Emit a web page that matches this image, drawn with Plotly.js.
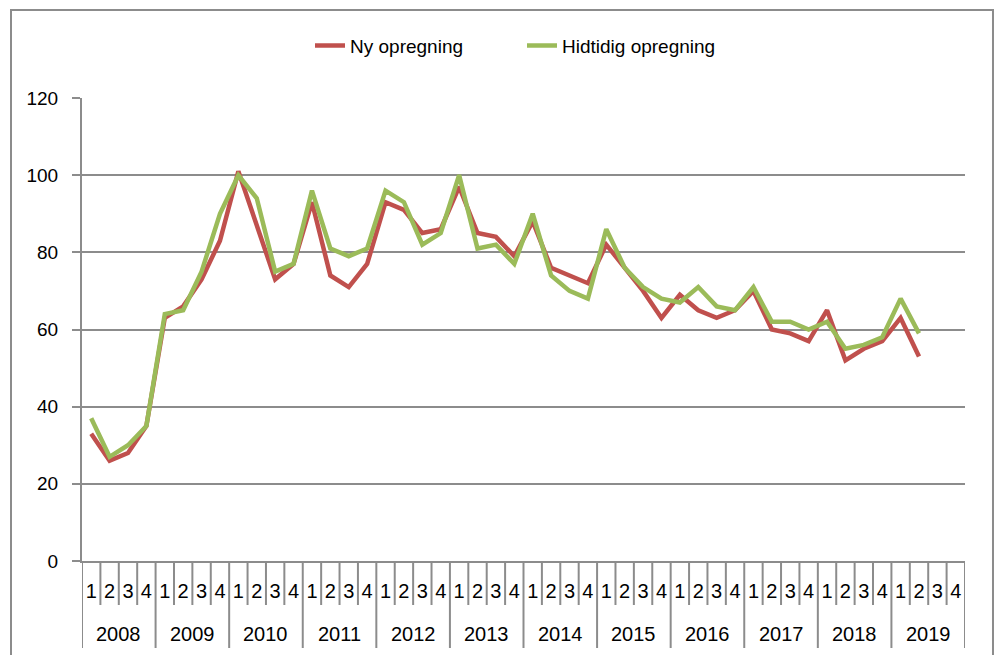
<!DOCTYPE html>
<html>
<head>
<meta charset="utf-8">
<script src="https://cdn.plot.ly/plotly-3.0.1.min.js"></script>
<style>html,body{margin:0;padding:0;background:#fff;}#chart{width:1000px;height:655px;}</style>
</head>
<body>
<div id="chart"></div>
<script>
const years = ['2008','2009','2010','2011','2012','2013','2014','2015','2016','2017','2018','2019'];
const quarters = ['1','2','3','4'];
const nyOpregning = [
  33, 26, 28, 35,
  63, 66, 73, 83,
  101, 87, 73, 77,
  93, 74, 71, 77,
  93, 91, 85, 86,
  97, 85, 84, 79,
  88, 76, 74, 72,
  82, 76, 70, 63,
  69, 65, 63, 65,
  70, 60, 59, 57,
  65, 52, 55, 57,
  63, 53, null, null
];
const hidtidigOpregning = [
  37, 27, 30, 35,
  64, 65, 75, 90,
  100, 94, 75, 77,
  96, 81, 79, 81,
  96, 93, 82, 85,
  100, 81, 82, 77,
  90, 74, 70, 68,
  86, 76, 71, 68,
  67, 71, 66, 65,
  71, 62, 62, 60,
  62, 55, 56, 58,
  68, 59, null, null
];

// category index positions and labels derived from years x quarters
const idx = [], qLabels = [];
years.forEach((y, yi) => quarters.forEach((q, qi) => { idx.push(yi * quarters.length + qi); qLabels.push(q); }));
const nCat = idx.length;

const FONT = '"Liberation Sans", Arial, sans-serif';
const GRAY = '#8c8c8c';
const PLOT_H = 655 - 98 - 94;

const shapes = [];
for (let i = 0; i <= nCat; i++) {
  const isYear = (i % quarters.length === 0) || i === nCat;
  shapes.push({type: 'line', xref: 'x', yref: 'paper', x0: i - 0.5, x1: i - 0.5,
    y0: 0, y1: -(isYear ? 87 : 44) / PLOT_H, line: {color: GRAY, width: 2}});
}
shapes.push({type: 'rect', xref: 'paper', yref: 'paper', x0: -0.0804, x1: 1.0317, y0: -0.22, y1: 1.19,
  line: {color: GRAY, width: 2}, fillcolor: 'rgba(0,0,0,0)', layer: 'below'});

const annotations = years.map((y, yi) => ({
  text: y, xref: 'x', yref: 'paper', x: yi * quarters.length + (quarters.length - 1) / 2,
  y: -(634 - 561) / PLOT_H, xanchor: 'center', yanchor: 'middle', showarrow: false,
  font: {family: FONT, size: 20, color: '#000'}
}));

const traces = [
  {x: idx, y: nyOpregning, type: 'scatter', mode: 'lines', name: 'Ny opregning',
   line: {color: '#C0504D', width: 4.5}, connectgaps: false},
  {x: idx, y: hidtidigOpregning, type: 'scatter', mode: 'lines', name: 'Hidtidig opregning',
   line: {color: '#9BBB59', width: 4.5}, connectgaps: false}
];

const layout = {
  width: 1000, height: 655,
  margin: {l: 82, r: 35, t: 98, b: 94},
  paper_bgcolor: '#fff', plot_bgcolor: '#fff',
  font: {family: FONT, size: 20, color: '#000'},
  showlegend: true,
  legend: {orientation: 'h', x: (310 - 82) / 883, xanchor: 'left', y: 1.154, yanchor: 'top',
           entrywidth: 167, entrywidthmode: 'pixels',
           font: {family: FONT, size: 19, color: '#000'}, traceorder: 'normal'},
  xaxis: {
    type: 'linear', range: [-0.5, nCat - 0.5],
    tickmode: 'array', tickvals: idx, ticktext: qLabels,
    ticks: '', ticklabelstandoff: 11,
    showline: true, linecolor: GRAY, linewidth: 2,
    showgrid: false, zeroline: false,
    tickfont: {family: FONT, size: 20, color: '#000'}
  },
  yaxis: {
    range: [0, 120], dtick: 20, tick0: 0,
    showgrid: true, gridcolor: GRAY, gridwidth: 2,
    showline: true, linecolor: GRAY, linewidth: 2,
    ticks: 'outside', ticklen: 8, tickcolor: GRAY, tickwidth: 2,
    ticklabelstandoff: 10,
    zeroline: false,
    tickfont: {family: FONT, size: 19, color: '#000'}
  },
  shapes: shapes,
  annotations: annotations
};

Plotly.newPlot('chart', traces, layout, {displayModeBar: false, staticPlot: true});
</script>
</body>
</html>
